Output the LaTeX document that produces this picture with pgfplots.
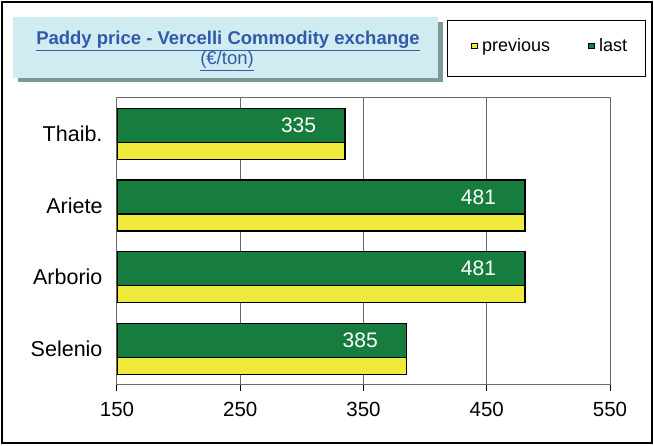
\documentclass[border=0pt]{standalone}
\usepackage{fontspec}
\setmainfont{Liberation Sans}
\usepackage{pgfplots}
\pgfplotsset{compat=1.18}
\definecolor{barGreen}{RGB}{22,125,63}
\definecolor{barYellow}{RGB}{240,234,60}
\definecolor{titleBlue}{RGB}{51,90,170}
\definecolor{boxFill}{RGB}{208,236,240}
\definecolor{boxShadow}{RGB}{122,153,153}
\definecolor{gridGray}{RGB}{105,105,105}

\begin{document}
\begin{tikzpicture}[x=1pt,y=1pt]
\useasboundingbox (0,0) rectangle (654,445);
\draw[black, line width=1.2pt] (2,2) rectangle (652,443);
% title box with shadow
\fill[boxShadow] (18,363) rectangle (443,423);
\fill[boxFill] (13,367) rectangle (438,428);
\node[anchor=base, inner sep=0pt, text=titleBlue, font=\fontsize{18.5}{22}\selectfont\bfseries] at (228,400) {\underline{Paddy price - Vercelli Commodity exchange}};
\node[anchor=base, inner sep=0pt, text=titleBlue, font=\fontsize{18.5}{22}\selectfont] at (227,380) {\underline{(€/ton)}};
% legend frame
\draw[black, line width=0.9pt, fill=white] (447,369) rectangle (645.5,425);

\begin{axis}[
  at={(117pt,60.5pt)}, anchor=south west,
  scale only axis, width=493pt, height=286.5pt,
  xbar, bar width=0.475,
  xmin=150, xmax=550, ymin=-0.5, ymax=3.5,
  /pgf/number format/assume math mode=true,
  xtick={150,250,350,450,550},
  ytick={0,1,2,3},
  yticklabels={Selenio,Arborio,Ariete,Thaib.},
  ytick style={draw=none},
  minor ytick={-0.5,0.5,1.5,2.5,3.5},
  minor tick length=6pt,
  major tick length=6pt,
  tick align=outside,
  xtick pos=bottom, ytick pos=left,
  tick style={black, line width=1pt},
  minor tick style={black, line width=1pt},
  xmajorgrids,
  grid style={gridGray, line width=1pt},
  axis line style={gridGray, line width=1pt},
  xticklabel style={font=\fontsize{20.5}{24}\selectfont, yshift=-8pt},
  yticklabel style={font=\fontsize{21.5}{25}\selectfont, xshift=-5pt},
  legend columns=2,
  legend style={at={(axis description cs:0.718,1.182)}, anchor=west,
    draw=none, fill=none, inner sep=0pt,
    font=\fontsize{18}{21}\selectfont,
    /tikz/every even column/.append style={column sep=36pt}},
  legend image code/.code={\draw[#1, line width=0.9pt] (0pt,-2.7pt) rectangle (5.4pt,2.7pt);
    \path[draw=none, fill=none] (0pt,0pt) (8.5pt,0pt);},
]
\addplot[fill=barYellow, draw=black, line width=1.2pt, bar shift=-0.118]
  coordinates {(385,0) (481,1) (481,2) (335,3)};
\addlegendentry{previous}
\addplot[fill=barGreen, draw=black, line width=1.2pt, bar shift=0.118,
  nodes near coords,
  every node near coord/.append style={anchor=east, xshift=-25pt, text=white,
    font=\fontsize{21}{25}\selectfont}]
  coordinates {(385,0) (481,1) (481,2) (335,3)};
\addlegendentry{last}
\end{axis}
\end{tikzpicture}
\end{document}
